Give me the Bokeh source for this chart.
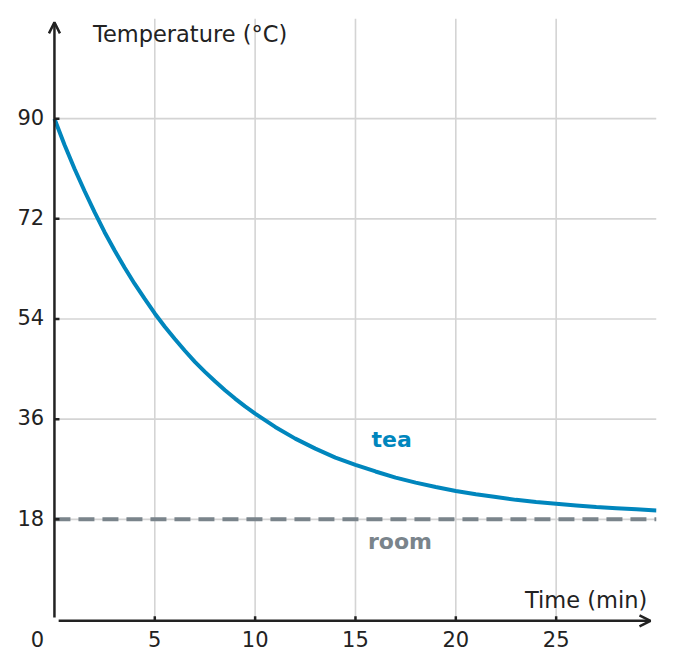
from bokeh.plotting import figure
from bokeh.models import Label, Arrow, OpenHead, Range1d
from bokeh.core.properties import value
from bokeh.embed import file_html
from bokeh.resources import INLINE

# tea cooling (minutes, °C)
time_min = [0, 0.5, 1, 1.5, 2, 2.5, 3, 3.5, 4, 4.5, 5, 5.5, 6, 6.5, 7, 7.5,
            8, 8.5, 9, 9.5, 10, 11, 12, 13, 14, 15, 16, 17, 18, 19, 20,
            21, 22, 23, 24, 25, 26, 27, 28, 29, 30]
tea_temp = [90.0, 85.3, 81.0, 77.0, 73.2, 69.6, 66.3, 63.2, 60.3, 57.6,
            55.0, 52.6, 50.4, 48.3, 46.3, 44.5, 42.8, 41.2, 39.7, 38.3,
            37.0, 34.6, 32.5, 30.7, 29.1, 27.8, 26.6, 25.5, 24.6, 23.8,
            23.1, 22.5, 22.0, 21.5, 21.1, 20.8, 20.5, 20.2, 20.0, 19.8, 19.6]
room_temp = 18

x_ticks = [5, 10, 15, 20, 25]
y_ticks = [18, 36, 54, 72, 90]
x_labels = [str(t) for t in x_ticks]
y_labels = [str(t) for t in y_ticks]
x_max = 30
y_max = 108

TEA = "#0086bd"
ROOM = "#7a848b"
INK = "#222222"
GRID = "#d4d4d4"
FONT = value("DejaVu Sans")

# the frame is padded left and below so the axes, arrows and tick labels
# drawn at x=0 / y=0 are not clipped
p = figure(width=672, height=664,
           x_range=Range1d(-2.09, x_max), y_range=Range1d(-5.93, y_max),
           output_backend="svg", toolbar_location=None,
           min_border_left=12, min_border_right=16,
           min_border_top=18, min_border_bottom=12)
p.outline_line_color = None
p.xaxis.visible = False
p.yaxis.visible = False
p.grid.visible = False

# grid, limited to the data area
p.segment(x0=x_ticks, y0=0, x1=x_ticks, y1=y_max, line_color=GRID, line_width=1.6)
p.segment(x0=0, y0=y_ticks, x1=x_max, y1=y_ticks, line_color=GRID, line_width=1.6)

# room temperature and tea curve
p.line(time_min, [room_temp] * len(time_min), line_color=ROOM,
       line_width=4, line_dash="16 8")
p.line(time_min, tea_temp, line_color=TEA, line_width=4)

# tick marks pointing into the plot
p.segment(x0=0, y0=y_ticks, x1=0.25, y1=y_ticks, line_color=INK, line_width=2.5)
p.segment(x0=x_ticks, y0=-0.24, x1=x_ticks, y1=0.6, line_color=INK, line_width=2.5)

# axis arrows
p.add_layout(Arrow(end=OpenHead(size=11, line_width=2.5, line_color=INK),
                   x_start=0, y_start=0.36, x_end=0, y_end=y_max - 0.7,
                   line_color=INK, line_width=2.5))
p.add_layout(Arrow(end=OpenHead(size=11, line_width=2.5, line_color=INK),
                   x_start=0.21, y_start=-0.24, x_end=x_max - 0.3, y_end=-0.24,
                   line_color=INK, line_width=2.5))

# tick labels
p.text(x=-0.51, y=[t + 0.3 for t in y_ticks], text=y_labels, text_font=FONT,
       text_font_size="21px", text_color=INK, text_align="right",
       text_baseline="alphabetic")
p.text(x=x_ticks, y=-3.45, text=x_labels, text_font=FONT,
       text_font_size="21px", text_color=INK, text_align="center",
       text_baseline="alphabetic")
p.text(x=[-0.51], y=[-3.45], text=["0"], text_font=FONT,
       text_font_size="21px", text_color=INK, text_align="right",
       text_baseline="alphabetic")

# axis titles and series labels
p.add_layout(Label(x=1.92, y=105.25, text="Temperature (°C)", text_font="DejaVu Sans",
                   text_font_size="22.5px", text_color=INK,
                   text_baseline="alphabetic"))
p.add_layout(Label(x=29.54, y=3.55, text="Time (min)", text_font="DejaVu Sans",
                   text_font_size="22.5px", text_color=INK, text_align="right",
                   text_baseline="alphabetic"))
p.add_layout(Label(x=15.8, y=32.3, text="tea", text_font="DejaVu Sans",
                   text_font_size="22px", text_font_style="bold",
                   text_color=TEA, text_baseline="alphabetic"))
p.add_layout(Label(x=15.62, y=14.0, text="room", text_font="DejaVu Sans",
                   text_font_size="22px", text_font_style="bold",
                   text_color=ROOM, text_baseline="alphabetic"))

open("out.html", "w").write(file_html(p, INLINE))
